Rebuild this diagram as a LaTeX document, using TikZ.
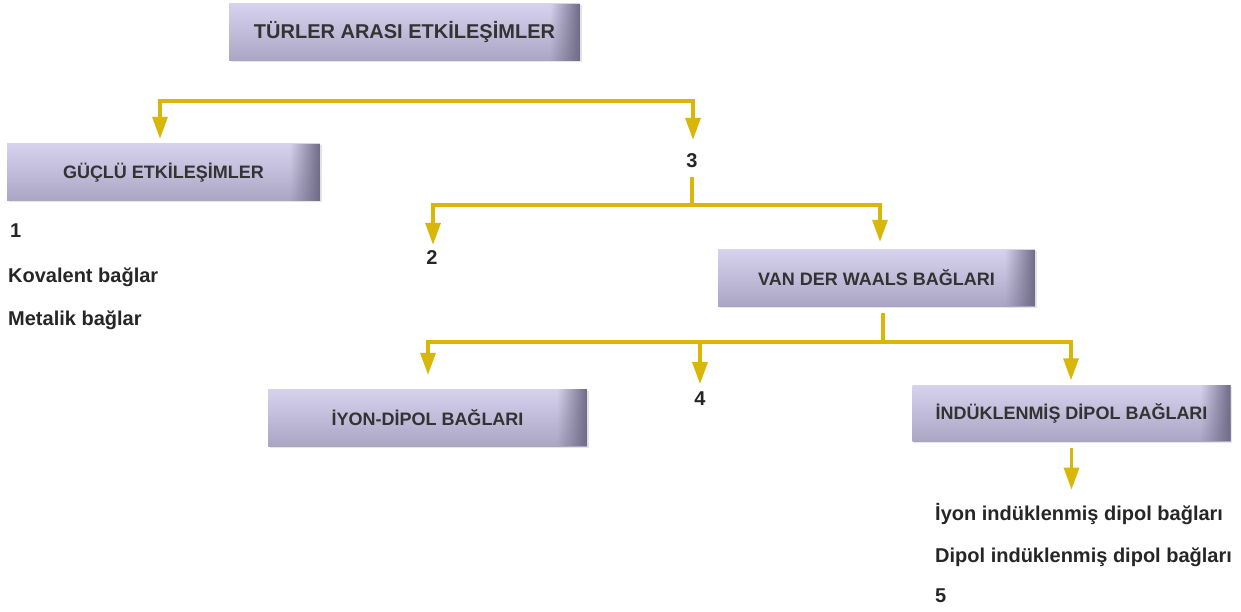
\documentclass[tikz,border=0pt]{standalone}
\usepackage{fontspec}
\setmainfont{Liberation Sans}
\newfontfamily\sansbold{Liberation Sans Bold}
\usetikzlibrary{arrows.meta,shadows,fadings}
\definecolor{arrowyellow}{HTML}{D8B70A}
\definecolor{lavT}{HTML}{D6D2EE}
\definecolor{lavM}{HTML}{CFCAE7}
\definecolor{lavB}{HTML}{ABA5C4}
\definecolor{lavR}{HTML}{6F6B86}
\definecolor{boxtext}{HTML}{333333}
\definecolor{lbltext}{HTML}{262626}
\begin{document}
\begin{tikzpicture}[x=1pt,y=-1pt,
  box/.style={rectangle, inner sep=0pt, text=boxtext,
    font=\sansbold\fontsize{18}{20}\selectfont,
    drop shadow={shadow xshift=1.5pt, shadow yshift=-1.5pt, opacity=0.2},
    path picture={
      \shade[top color=lavT, middle color=lavM, bottom color=lavB]
        (path picture bounding box.north west) rectangle (path picture bounding box.south east);
      \fill[lavR, path fading=west]
        ([xshift=-30pt]path picture bounding box.north east) rectangle (path picture bounding box.south east);
    }},
  conn/.style={draw=arrowyellow, line width=3.3pt},
  twoarr/.style={conn, {Triangle[width=15pt,length=22pt]}-{Triangle[width=15pt,length=22pt]}},
  onearr/.style={conn, -{Triangle[width=15pt,length=22pt]}},
  lbl/.style={font=\sansbold\fontsize{20}{22}\selectfont, text=lbltext, inner sep=0pt, anchor=base west},
  num/.style={font=\sansbold\fontsize{20}{22}\selectfont, text=lbltext, inner sep=0pt, anchor=base},
]
\useasboundingbox[fill=white] (0,0) rectangle (1241,612);

% boxes
\node[box, minimum width=351pt, minimum height=57pt, font=\sansbold\fontsize{20}{22}\selectfont] (turler) at (404.5,32.5) {TÜRLER ARASI ETKİLEŞİMLER};
\node[box, minimum width=313pt, minimum height=57pt] (guclu) at (163.5,172.5) {GÜÇLÜ ETKİLEŞİMLER};
\node[box, minimum width=317pt, minimum height=56pt] (vdw) at (876.5,278) {VAN DER WAALS BAĞLARI};
\node[box, minimum width=319pt, minimum height=57pt] (iyon) at (427.5,417.5) {İYON-DİPOL BAĞLARI};
\node[box, minimum width=318pt, minimum height=56pt] (induk) at (1071.5,413.5) {İNDÜKLENMİŞ DİPOL BAĞLARI};

% labels
\node[lbl] (n1) at (10,237) {1};
\node[lbl] (kov) at (8,282) {Kovalent bağlar};
\node[lbl] (met) at (8,325) {Metalik bağlar};
\node[num] (n3) at (692,168) {3};
\node[num] (n2) at (432,265) {2};
\node[num] (n4) at (700,405) {4};
\node[lbl] (iyonind) at (935,520) {İyon indüklenmiş dipol bağları};
\node[lbl] (dipind) at (935,562) {Dipol indüklenmiş dipol bağları};
\node[lbl] (n5) at (935,602) {5};

% coordinates of bars
\coordinate (tL) at (160,101);
\coordinate (tR) at (693,101);
\coordinate (bL) at (433,205);
\coordinate (bR) at (880,205);
\coordinate (cL) at (428,342);
\coordinate (cC) at (700,342);
\coordinate (cM) at (883,342);
\coordinate (cR) at (1071,342);

% connectors
\draw[twoarr, shorten <=5pt, shorten >=14pt] (tL |- guclu.north) -- (tL) -- (tR) -- (tR |- n3.north);
\draw[conn, shorten <=9pt] (n3.south) -- (n3.south |- bL);
\draw[twoarr, shorten <=6pt, shorten >=8pt] (bL |- n2.north) -- (bL) -- (bR) -- (bR |- vdw.north);
\draw[conn, shorten <=7pt] (vdw.south -| cM) -- (cM);
\draw[twoarr, shorten <=14pt, shorten >=5pt] (cL |- iyon.north) -- (cL) -- (cR) -- (cR |- induk.north);
\draw[onearr, shorten >=7pt] (cC) -- (cC |- n4.north);
\draw[onearr, shorten <=6pt, shorten >=13pt] (induk.south) -- (induk.south |- iyonind.north);
\end{tikzpicture}
\end{document}
